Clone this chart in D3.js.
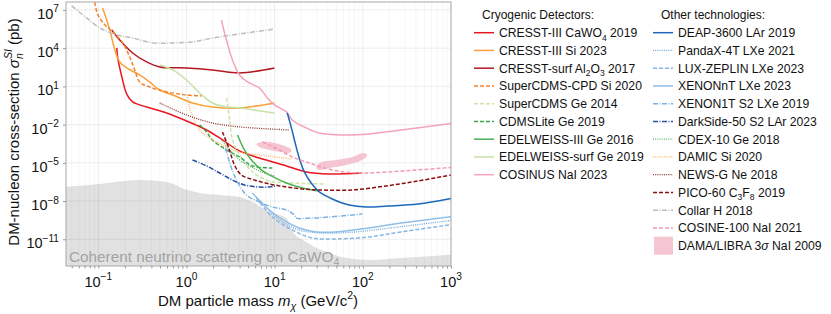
<!DOCTYPE html>
<html lang="en">
<head>
<meta charset="UTF-8">
<title>DM SI limits</title>
<script src="https://d3js.org/d3.v7.min.js"></script>
<style>
  body { margin: 0; background: #fff; }
  svg { font-family: "Liberation Sans", Arial, sans-serif; }
</style>
</head>
<body>
<svg id="chart" width="831" height="314"></svg>
<script>
// ---- data: [mass GeV/c^2, cross-section pb] ----
const cresstCaWO4 = [[0.162,1.05e4],[0.166,1.7e3],[0.185,55],[0.21,2.5],[0.245,0.6],[0.353,0.243],[0.596,0.082],[1.0,0.0194],[1.69,3.8e-3],[2.37,9e-4],[3.99,8.6e-5],[6.71,2.4e-5],[13.6,5.7e-6],[22.8,1.93e-6],[41.6,1.34e-6],[98.2,1.6e-6]];
const cresstSi = [[0.112,1.44e7],[0.135,2.7e5],[0.154,7.2e3],[0.175,830],[0.21,280],[0.294,79],[0.383,22],[0.497,5.2],[0.697,2.13],[1.17,0.5],[1.97,0.243],[3.99,0.203],[9.93,0.5]];
const cresstSurf = [[0.142,2.7e5],[0.175,4.4e4],[0.245,4.2e3],[0.353,830],[0.497,336],[1.0,280],[1.97,195],[3.99,113],[9.93,280]];
const superCdmsCpd = [[0.091,4.2e7],[0.099,4.0e6],[0.119,6.6e5],[0.146,1.9e5],[0.189,2.6e4],[0.227,2.0e3],[0.259,195],[0.294,22],[0.383,9.0],[0.596,3.66],[1.0,2.13],[1.48,1.78]];
const superCdmsGe = [[2.84,1.24],[3.07,0.04],[3.32,6.3e-4],[3.99,4.2e-5],[5.59,1.93e-6],[8.71,3.8e-7],[15.8,2.6e-7],[38.5,2.2e-7]];
const cdmsLite = [[1.41,9.4e-3],[1.69,2.65e-3],[1.97,6.3e-4],[2.84,1.03e-4],[3.99,2.9e-5],[5.59,5.7e-6],[9.42,4.0e-6]];
const edelweissIII = [[3.79,1.54e-3],[4.54,1.03e-4],[5.45,1.68e-5],[7.07,2.8e-6],[8.71,1.12e-6],[13.6,2.6e-7],[20.6,1.07e-7],[32.1,6.2e-8]];
const edelweissSurf = [[0.497,480],[0.697,195],[1.0,32],[1.41,3.05],[1.97,0.5],[2.84,0.243],[3.99,0.203],[9.93,0.082]];
const cosinus = [[2.49,1.6e6],[2.84,4.4e4],[3.32,1.19e3],[3.99,79],[5.17,18.6],[6.71,7.5],[8.27,1.24],[9.93,0.35],[13.6,0.099],[15.8,0.023],[22.8,5.5e-3],[32.1,2.2e-3],[58.4,1.54e-3],[118,1.85e-3],[271,3.8e-3],[1000,0.012]];

const deap = [[13.9,0.082],[15.5,5.5e-3],[17.1,3.6e-4],[19.0,2.4e-5],[21.7,1.93e-6],[26.0,2.6e-7],[32.1,5.2e-8],[45.0,1.46e-8],[70.0,4.9e-9],[109,3.4e-9],[193,4.1e-9],[422,5.9e-9],[1000,1.6e-8]];
const pandax = [[6.71,1.22e-8],[11.3,3.3e-10],[19.0,5.4e-11],[32.1,3.2e-11],[75.7,3.6e-11],[183,7.0e-11],[1000,3.0e-10]];
const luxZeplin = [[6.21,1.75e-8],[9.42,5.6e-10],[15.8,5.4e-11],[26.7,1.27e-11],[49.9,1.06e-11],[118,1.52e-11],[271,3.8e-11],[1000,1.4e-10]];
const xenonNT = [[5.59,4.3e-8],[8.71,2.0e-9],[13.6,2.3e-10],[19.0,7.7e-11],[29.6,3.8e-11],[49.9,3.8e-11],[118,7.7e-11],[271,1.9e-10],[1000,6.0e-10]];
const xenon1tS2 = [[2.77,1.47e-4],[3.07,1.17e-5],[3.59,6.5e-7],[4.78,3.0e-8],[6.71,8.5e-9],[9.42,3.4e-9],[13.6,2.0e-9],[16.7,8.1e-10],[17.6,4.7e-10],[26.7,4.7e-10],[41.6,5.6e-10],[98.2,9.7e-10]];
const darkSide = [[1.17,1.68e-5],[1.69,5.7e-6],[2.37,1.6e-6],[3.32,4.5e-7],[4.54,1.84e-7],[6.37,1.28e-7],[8.71,1.28e-7],[10.5,1.53e-7]];
const cdex = [[2.49,6.3e-4],[3.07,1.03e-4],[3.99,1.68e-5],[5.17,5.7e-6],[7.07,1.93e-6],[9.93,9.3e-7]];
const damic = [[1.03,2.13],[1.08,0.243],[1.41,3.8e-3],[1.97,6.3e-4],[3.99,7.1e-5],[6.71,4.2e-5],[15.5,2.0e-5]];
const newsG = [[0.497,0.5],[1.0,0.057],[1.97,0.0135],[3.99,6.6e-3],[14.7,3.8e-3]];
const pico = [[2.56,2.65e-3],[3.07,1.03e-4],[3.5,6.8e-6],[4.2,1.12e-6],[5.89,4.5e-7],[8.71,2.2e-7],[13.6,1.28e-7],[20.6,8.9e-8],[32.1,7.4e-8],[75.7,7.4e-8],[183,1.53e-7],[422,3.8e-7],[1000,1.1e-6]];
const collar = [[0.05,2.1e7],[0.074,2.3e6],[0.104,3.9e5],[0.162,1.1e5],[0.245,6.3e4],[0.414,2.6e4],[0.7,2.6e4],[1.17,3.1e4],[1.97,6.3e4],[3.99,1.3e5],[9.9,3.2e5]];
const cosine100 = [[7.26,4.4e-4],[11.3,1.03e-4],[15.8,2.9e-5],[24.7,9.8e-6],[36.5,4.0e-6],[61.4,1.93e-6],[103,1.6e-6],[193,1.93e-6],[422,2.8e-6],[1000,4.3e-6]];

// DAMA/LIBRA 3 sigma contours (Na and I islands)
const damaNa = [[6.21,3.0e-4],[7.26,4.4e-4],[8.71,4.4e-4],[12.2,2.5e-4],[15.5,1.03e-4],[14.7,6.0e-5],[12.2,7.1e-5],[8.71,1.03e-4],[6.71,1.76e-4]];
const damaI = [[29.6,4.0e-6],[32.1,9.8e-6],[49.9,1.68e-5],[75.7,2.9e-5],[103,6.0e-5],[112,4.2e-5],[98.2,1.68e-5],[64.7,6.8e-6],[41.6,4.0e-6],[32.1,2.8e-6]];

// neutrino floor upper edge
const nuMass = [0.043,0.104,0.294,0.596,0.95,1.41,2.37,3.99,5.59,8.71,13.6,15.5,22.8,41.6,64.7,118,271,1000];
const nuXsec = [1.3e-7,2.2e-7,4.5e-7,3.1e-7,8.9e-8,4.3e-8,3.0e-8,2.1e-8,8.5e-9,1.39e-9,4.7e-10,5.4e-11,6.2e-12,8.5e-13,3.4e-13,2.4e-13,3.4e-13,6.2e-13];

const xTicks = [0.1, 1, 10, 100, 1000];
const xTickExp = ["−1", "0", "1", "2", "3"];
const yTicks = [1e7, 1e4, 1e1, 1e-2, 1e-5, 1e-8, 1e-11];
const yTickExp = ["7", "4", "1", "−2", "−5", "−8", "−11"];

// ---- styles ----
const cryo = [
  { label: "CRESST-III CaWO_{4} 2019", data: cresstCaWO4, color: "#e8161e", dash: null },
  { label: "CRESST-III Si 2023", data: cresstSi, color: "#f9a23a", dash: null },
  { label: "CRESST-surf Al_{2}O_{3} 2017", data: cresstSurf, color: "#b3171f", dash: null },
  { label: "SuperCDMS-CPD Si 2020", data: superCdmsCpd, color: "#f5822e", dash: "4,2" },
  { label: "SuperCDMS Ge 2014", data: superCdmsGe, color: "#cfe4ab", dash: "4,2" },
  { label: "CDMSLite Ge 2019", data: cdmsLite, color: "#3aa64c", dash: "4,2" },
  { label: "EDELWEISS-III Ge 2016", data: edelweissIII, color: "#4db252", dash: null },
  { label: "EDELWEISS-surf Ge 2019", data: edelweissSurf, color: "#c7e1a6", dash: null },
  { label: "COSINUS NaI 2023", data: cosinus, color: "#f4a3b8", dash: null }
];
const other = [
  { label: "DEAP-3600 LAr 2019", data: deap, color: "#1d68b8", dash: null },
  { label: "PandaX-4T LXe 2021", data: pandax, color: "#6ea8de", dash: "1,1.2" },
  { label: "LUX-ZEPLIN LXe 2023", data: luxZeplin, color: "#86b6e6", dash: "4,2" },
  { label: "XENONnT LXe 2023", data: xenonNT, color: "#8fbfe8", dash: null },
  { label: "XENON1T S2 LXe 2019", data: xenon1tS2, color: "#7fb2e2", dash: "5,1.5,1,1.5" },
  { label: "DarkSide-50 S2 LAr 2023", data: darkSide, color: "#24509e", dash: "5,1.5,1,1.5" },
  { label: "CDEX-10 Ge 2018", data: cdex, color: "#5dbb63", dash: "1,1.2" },
  { label: "DAMIC Si 2020", data: damic, color: "#fbb45c", dash: "1,1.2" },
  { label: "NEWS-G Ne 2018", data: newsG, color: "#8e3232", dash: "1,1.2" },
  { label: "PICO-60 C_{3}F_{8} 2019", data: pico, color: "#8a0f0f", dash: "4,2" },
  { label: "Collar H 2018", data: collar, color: "#bdbdbd", dash: "5,1.5,1,1.5" },
  { label: "COSINE-100 NaI 2021", data: cosine100, color: "#f29bb0", dash: "4,2" }
];
const damaColor = "#f5c6d1";

const svg = d3.select("#chart");
const pLeft = 66, pRight = 451, pTop = 2, pBottom = 266;

const x = d3.scaleLog().domain([0.043, 1000]).range([pLeft, pRight]);
const y = d3.scaleLog().domain([8e-14, 4.2e7]).range([pBottom, pTop]);

// writes text with _{sub}, ^{sup} and ~{italic} pieces as tspans
function rich(sel, str, size) {
  const parts = str.split(/(_\{[^}]*\}|\^\{[^}]*\}|~\{[^}]*\})/).filter(s => s.length);
  let shift = 0;
  parts.forEach(p => {
    const t = sel.append("tspan");
    let dy = 0;
    if (p[0] === "_" && p[1] === "{") { t.text(p.slice(2, -1)).attr("font-size", size * 0.7); dy = size * 0.28; }
    else if (p[0] === "^" && p[1] === "{") { t.text(p.slice(2, -1)).attr("font-size", size * 0.7); dy = -size * 0.45; }
    else if (p[0] === "~" && p[1] === "{") { t.text(p.slice(2, -1)).attr("font-style", "italic"); }
    else t.text(p);
    t.attr("dy", dy - shift);
    shift = dy;
  });
}

svg.append("clipPath").attr("id", "plotclip")
  .append("rect").attr("x", pLeft).attr("y", pTop).attr("width", pRight - pLeft).attr("height", pBottom - pTop);

const plot = svg.append("g").attr("clip-path", "url(#plotclip)");

// neutrino floor
const nuPts = nuMass.map((m, i) => [m, nuXsec[i]]);
plot.append("path")
  .datum(nuPts)
  .attr("fill", "#e1e1e1")
  .attr("d", d3.area().x(d => x(d[0])).y0(pBottom + 5).y1(d => y(d[1])).curve(d3.curveMonotoneX));

// grid
const minorX = [];
[0.01, 0.1, 1, 10, 100].forEach(dec => { for (let k = 2; k <= 9; k++) minorX.push(dec * k); });
plot.selectAll(".gxm").data(minorX).enter().append("line")
  .attr("x1", d => x(d)).attr("x2", d => x(d)).attr("y1", pTop).attr("y2", pBottom)
  .attr("stroke", "#000").attr("stroke-opacity", 0.035).attr("stroke-width", 1);
plot.selectAll(".gx").data(xTicks).enter().append("line")
  .attr("x1", d => x(d)).attr("x2", d => x(d)).attr("y1", pTop).attr("y2", pBottom)
  .attr("stroke", "#000").attr("stroke-opacity", 0.07).attr("stroke-width", 1);
plot.selectAll(".gy").data(yTicks).enter().append("line")
  .attr("x1", pLeft).attr("x2", pRight).attr("y1", d => y(d)).attr("y2", d => y(d))
  .attr("stroke", "#000").attr("stroke-opacity", 0.07).attr("stroke-width", 1);

// neutrino label
const nuText = svg.append("text").attr("x", 69).attr("y", 262)
  .attr("font-size", 15.3).attr("fill", "#a3a3a3");
rich(nuText, "Coherent neutrino scattering on CaWO_{4}", 15.3);

// DAMA islands
const closed = d3.line().x(d => x(d[0])).y(d => y(d[1])).curve(d3.curveCatmullRomClosed.alpha(0.5));
plot.selectAll(".dama").data([damaNa, damaI]).enter().append("path")
  .attr("d", closed).attr("fill", damaColor).attr("stroke", "none");

// limit curves
const line = d3.line().x(d => x(d[0])).y(d => y(d[1])).curve(d3.curveCatmullRom.alpha(0.5));
const allSeries = cryo.concat(other);
plot.selectAll(".limit").data(allSeries).enter().append("path")
  .attr("fill", "none")
  .attr("d", d => line(d.data))
  .attr("stroke", d => d.color)
  .attr("stroke-width", d => d.dash === "1,1.2" ? 1.3 : 1.5)
  .attr("stroke-dasharray", d => d.dash);

// frame
svg.append("rect").attr("x", pLeft).attr("y", pTop).attr("width", pRight - pLeft).attr("height", pBottom - pTop)
  .attr("fill", "none").attr("stroke", "#a8a8a8").attr("stroke-width", 1);

// axes ticks
const xAxis = d3.axisBottom(x).tickValues(minorX.filter(v => v > 0.043 && v < 1000).concat(xTicks))
  .tickSize(2.5).tickFormat("");
const gx = svg.append("g").attr("transform", `translate(0,${pBottom})`).call(xAxis);
gx.select(".domain").remove();
gx.selectAll("line").attr("stroke", "#999");

const yAxis = d3.axisLeft(y).tickValues(yTicks).tickSize(3).tickFormat("");
const gy = svg.append("g").attr("transform", `translate(${pLeft},0)`).call(yAxis);
gy.select(".domain").remove();
gy.selectAll("line").attr("stroke", "#999");

// tick labels
const fs = 14.5;
xTicks.forEach((v, i) => {
  const t = svg.append("text").attr("x", x(v)).attr("y", 287).attr("text-anchor", "middle")
    .attr("font-size", fs).attr("fill", "#111");
  rich(t, "10^{" + xTickExp[i] + "}", fs);
});
yTicks.forEach((v, i) => {
  const t = svg.append("text").attr("x", 59).attr("y", y(v) + 9).attr("text-anchor", "end")
    .attr("font-size", fs).attr("fill", "#111");
  rich(t, "10^{" + yTickExp[i] + "}", fs);
});

// axis titles
const xt = svg.append("text").attr("x", 258).attr("y", 306).attr("text-anchor", "middle")
  .attr("font-size", 15).attr("fill", "#111");
xt.append("tspan").text("DM particle mass ");
xt.append("tspan").text("m").attr("font-style", "italic");
xt.append("tspan").text("χ").attr("font-style", "italic").attr("font-size", 10.5).attr("dy", 4);
xt.append("tspan").text(" (GeV/c").attr("dy", -4);
xt.append("tspan").text("2").attr("font-size", 10.5).attr("dy", -7);
xt.append("tspan").text(")").attr("dy", 7);

const yt = svg.append("text").attr("transform", "translate(19,132) rotate(-90)").attr("text-anchor", "middle")
  .attr("font-size", 15).attr("fill", "#111");
yt.append("tspan").text("DM-nucleon cross-section ");
yt.append("tspan").text("σ").attr("font-style", "italic");
yt.append("tspan").text("n").attr("font-style", "italic").attr("font-size", 10.5).attr("dy", 4);
yt.append("tspan").text("SI").attr("font-style", "italic").attr("font-size", 10.5).attr("dx", -5.8).attr("dy", -11);
yt.append("tspan").text(" (pb)").attr("dy", 7);

// legend
const legFs = 12.2, rowH = 17.75, row0 = 32.7;
function legendColumn(items, x0, title) {
  svg.append("text").attr("x", x0 + 8).attr("y", 19).attr("font-size", 12).attr("fill", "#111").text(title);
  items.forEach((s, i) => {
    const cy = row0 + i * rowH;
    svg.append("line").attr("x1", x0).attr("x2", x0 + 20).attr("y1", cy).attr("y2", cy)
      .attr("stroke", s.color).attr("stroke-width", s.dash === "1,1.2" ? 1.3 : 1.5)
      .attr("stroke-dasharray", s.dash);
    const t = svg.append("text").attr("x", x0 + 25).attr("y", cy + 4.4).attr("font-size", legFs).attr("fill", "#111");
    rich(t, s.label, legFs);
  });
}
legendColumn(cryo, 474, "Cryogenic Detectors:");
legendColumn(other, 653, "Other technologies:");

const damaRow = row0 + other.length * rowH;
svg.append("rect").attr("x", 654).attr("y", damaRow - 9).attr("width", 19).attr("height", 18).attr("fill", damaColor);
const dt = svg.append("text").attr("x", 678).attr("y", damaRow + 4.4).attr("font-size", legFs).attr("fill", "#111");
rich(dt, "DAMA/LIBRA 3~{σ} NaI 2009", legFs);
</script>
</body>
</html>
